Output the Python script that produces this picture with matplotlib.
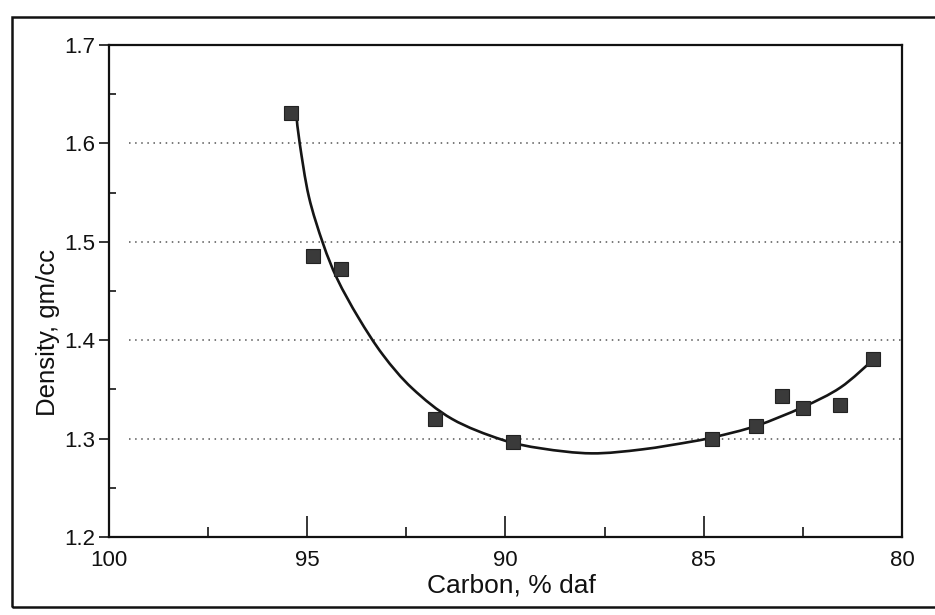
import matplotlib
matplotlib.use("Agg")
import matplotlib.pyplot as plt
from matplotlib.patches import Rectangle, PathPatch
from matplotlib.path import Path
from matplotlib.ticker import MultipleLocator

# Measured coal samples: carbon content (% daf) vs. density (gm/cc)
carbon = [95.40, 94.86, 94.15, 91.77, 89.80, 84.78, 83.68, 83.03, 82.49, 81.56, 80.72]
density = [1.631, 1.486, 1.472, 1.320, 1.297, 1.300, 1.313, 1.343, 1.331, 1.334, 1.381]

# Trend curve through the samples
curve_carbon = [95.27, 95.19, 94.96, 94.60, 94.24, 93.71, 93.09, 92.35, 91.35, 90.10,
                89.09, 87.83, 86.56, 85.30, 84.69, 83.67, 82.50, 81.55, 80.73]
curve_density = [1.627, 1.600, 1.546, 1.498, 1.462, 1.423, 1.385, 1.351, 1.320, 1.299,
                 1.290, 1.285, 1.289, 1.297, 1.302, 1.313, 1.332, 1.352, 1.380]

x_ticks = [100, 95, 90, 85, 80]
y_ticks = [1.2, 1.3, 1.4, 1.5, 1.6, 1.7]
grid_levels = [1.3, 1.4, 1.5, 1.6]

W, H = 935, 615
fig = plt.figure(figsize=(W / 100, H / 100), dpi=100)
fig.patch.set_facecolor("white")

label_font = ["Liberation Sans", "DejaVu Sans"]
ink = "#111111"

left, right, top, bottom = 109, 902, 45, 537
ax = fig.add_axes([left / W, 1 - bottom / H, (right - left) / W, (bottom - top) / H])

ax.set_xlim(100, 80)
ax.set_ylim(1.2, 1.7)

for lvl in grid_levels:
    ax.hlines(lvl, 99.5, 80, color="#555555", lw=1.1, ls=(0, (1, 3)), zorder=1)


def smooth_path(xs, ys):
    """Cubic Bezier path passing through every (x, y) pair (Catmull-Rom tangents)."""
    pts = list(zip(xs, ys))
    verts = [pts[0]]
    codes = [Path.MOVETO]
    n = len(pts)
    for i in range(n - 1):
        p0 = pts[i - 1] if i > 0 else pts[i]
        p1 = pts[i]
        p2 = pts[i + 1]
        p3 = pts[i + 2] if i + 2 < n else pts[i + 1]
        c1 = (p1[0] + (p2[0] - p0[0]) / 6, p1[1] + (p2[1] - p0[1]) / 6)
        c2 = (p2[0] - (p3[0] - p1[0]) / 6, p2[1] - (p3[1] - p1[1]) / 6)
        verts += [c1, c2, p2]
        codes += [Path.CURVE4] * 3
    return Path(verts, codes)


ax.add_patch(PathPatch(smooth_path(curve_carbon, curve_density), fill=False,
                       edgecolor="#151515", lw=1.9, capstyle="round",
                       joinstyle="round", zorder=2))
ax.plot(carbon, density, ls="none", marker="s", markersize=10,
        markerfacecolor="#3a3a3a", markeredgecolor="#222222", markeredgewidth=0.8, zorder=3)

ax.xaxis.set_minor_locator(MultipleLocator(2.5))
ax.yaxis.set_minor_locator(MultipleLocator(0.05))
ax.set_xticks(x_ticks)
ax.set_yticks(y_ticks)
ax.set_xticklabels([str(v) for v in x_ticks])
ax.set_yticklabels([f"{v:.1f}" for v in y_ticks])

ax.tick_params(axis="x", which="major", direction="in", length=15, width=1.1, pad=9)
ax.tick_params(axis="x", which="minor", direction="in", length=7.5, width=1.1)
ax.tick_params(axis="y", which="major", direction="out", length=7, width=1.1, pad=3)
ax.tick_params(axis="y", which="minor", direction="in", length=5, width=1.1)
for lab in ax.get_xticklabels() + ax.get_yticklabels():
    lab.set_family(label_font)
    lab.set_fontsize(16)
    lab.set_color(ink)

for s in ax.spines.values():
    s.set_linewidth(1.6)
    s.set_color(ink)

ax.set_xlabel("Carbon, % daf", family=label_font, fontsize=19, color=ink)
ax.set_ylabel("Density, gm/cc", family=label_font, fontsize=18.5, color=ink)
ax.xaxis.set_label_coords(0.508, -0.074)
ax.yaxis.set_label_coords(-0.062, 0.415)

# Outer border around the whole panel
fig.add_artist(Rectangle((12 / W, 1 - 607 / H), 1.0, (607 - 17) / H,
                         transform=fig.transFigure, fill=False,
                         edgecolor=ink, lw=1.8))

fig.savefig("out.png", dpi=100, facecolor="white")
